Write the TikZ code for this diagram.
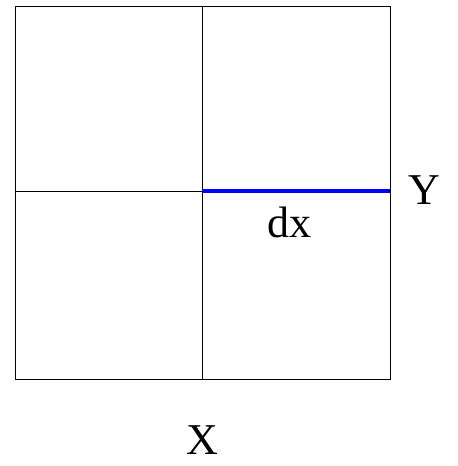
\documentclass[tikz,border=0pt]{standalone}
\usepackage{fontspec}
\setmainfont{Liberation Serif}
\usetikzlibrary{positioning}

\tikzset{
  cell/.style={black, line width=0.6pt},
  edge/.style={blue, line width=2.8pt},
  lbl/.style={font=\fontsize{33}{38}\selectfont, inner sep=0pt}
}

\begin{document}
\begin{tikzpicture}[x=0.75pt, y=-0.75pt]
\useasboundingbox (0,0) rectangle (457,466);

% ---- grid ------------------------------------------------------------------
\coordinate (nw) at (15.5,6);
\coordinate (se) at (390,379);
\coordinate (ntop) at (202,6);
\coordinate (nbot) at (202,379);
\coordinate (wmid) at (15.5,191);
\coordinate (cmid) at (202,191);
\coordinate (emid) at (390,191);

\draw[cell] (nw) rectangle (se);
\draw[cell] (ntop) -- (nbot);
\draw[cell] (wmid) -- (cmid);

% ---- highlighted edge ------------------------------------------------------
\draw[edge] (cmid) -- (emid);

% ---- labels ----------------------------------------------------------------
\node[lbl] (dx) at (289,222) {dx};
\node[lbl] (ylab) at (424,190) {Y};
\node[lbl] (xlab) at (202,440) {X};

\end{tikzpicture}
\end{document}
